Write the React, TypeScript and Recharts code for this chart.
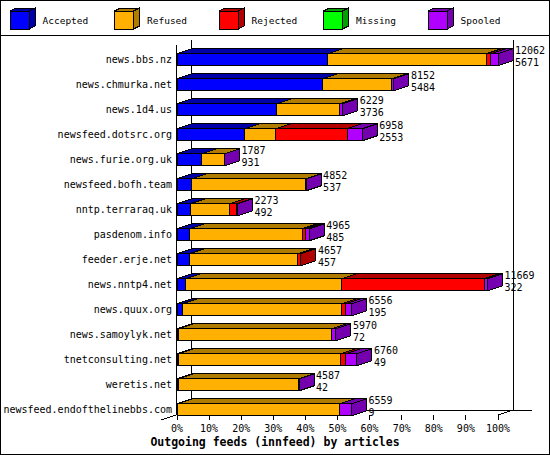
import React from 'react'
import { BarChart, Bar, XAxis, YAxis, LabelList, Customized } from 'recharts'

// feeds, top to bottom
const hosts = [
  'news.bbs.nz',
  'news.chmurka.net',
  'news.1d4.us',
  'newsfeed.dotsrc.org',
  'news.furie.org.uk',
  'newsfeed.bofh.team',
  'nntp.terraraq.uk',
  'pasdenom.info',
  'feeder.erje.net',
  'news.nntp4.net',
  'news.quux.org',
  'news.samoylyk.net',
  'tnetconsulting.net',
  'weretis.net',
  'newsfeed.endofthelinebbs.com',
]

// article counts (totals and accepted are printed, the rest)
const totals = [12062, 8152, 6229, 6958, 1787, 4852, 2273, 4965, 4657, 11669, 6556, 5970, 6760, 4587, 6559]
const accepted = [5671, 5484, 3736, 2553, 931, 537, 492, 485, 457, 322, 195, 72, 49, 42, 9]
const refused = [5947, 2590, 2385, 1146, 844, 4300, 1480, 4220, 4065, 5850, 5980, 5730, 6100, 4530, 6095]
const rejected = [170, 0, 0, 2690, 0, 0, 280, 120, 135, 5370, 170, 20, 190, 0, 0]
const missing = [0, 0, 0, 0, 0, 0, 0, 0, 0, 0, 0, 0, 0, 0, 0]
const spooled = [274, 78, 108, 569, 12, 15, 21, 140, 0, 127, 211, 148, 421, 15, 455]

const percentTicks = [0, 10, 20, 30, 40, 50, 60, 70, 80, 90, 100]

const series = [
  { key: 'accepted', name: 'Accepted', front: '#0000ff', dark: '#0000a8' },
  { key: 'refused', name: 'Refused', front: '#ffb000', dark: '#b07c00' },
  { key: 'rejected', name: 'Rejected', front: '#ff0000', dark: '#b00000' },
  { key: 'missing', name: 'Missing', front: '#00ff00', dark: '#00a000' },
  { key: 'spooled', name: 'Spooled', front: '#b000ff', dark: '#7400b0' },
]

const maxTotal = Math.max(...totals)
const pct = (v: number) => (v / maxTotal) * 100

const data = hosts.map((name, i) => ({
  name,
  accepted: pct(accepted[i]),
  refused: pct(refused[i]),
  rejected: pct(rejected[i]),
  missing: pct(missing[i]),
  spooled: pct(spooled[i]),
  label: `${totals[i]}|${accepted[i]}`,
}))

const FONT = '"DejaVu Sans Mono", monospace'
const DX = 15
const DY = 5
const FLOOR = 415

function Box3D(props: any) {
  const { x, y, width, height, front, dark } = props
  if (!width || width <= 0) return <g />
  const x2 = x + width
  const y2 = y + height
  return (
    <g stroke="#000" strokeWidth={1} shapeRendering="crispEdges">
      <polygon points={`${x},${y} ${x2},${y} ${x2 + DX},${y - DY} ${x + DX},${y - DY}`} fill={dark} />
      <polygon points={`${x2},${y} ${x2 + DX},${y - DY} ${x2 + DX},${y2 - DY} ${x2},${y2}`} fill={dark} />
      <rect x={x} y={y} width={width} height={height} fill={front} />
    </g>
  )
}

const renderCounts = (p: any) => {
  const { x, y, width, value } = p
  const [tot, acc] = String(value).split('|')
  const lx = Number(x) + Number(width) + DX + 2
  return (
    <g>
      <text x={lx} y={Number(y) + 0.5} fontFamily={FONT} fontSize={10} fill="#000">{tot}</text>
      <text x={lx} y={Number(y) + 12} fontFamily={FONT} fontSize={10} fill="#000">{acc}</text>
    </g>
  )
}

const PctTick = (p: any) => {
  const { x, payload } = p
  return (
    <g>
      <line x1={x} y1={FLOOR} x2={x} y2={FLOOR + 5} stroke="#000" shapeRendering="crispEdges" />
      <text x={x} y={FLOOR + 16.5} textAnchor="middle" fontFamily={FONT} fontSize={10} fill="#000">
        {payload.value}%
      </text>
    </g>
  )
}

function Frame() {
  return (
    <g>
      <g stroke="#000" strokeWidth={1} fill="none" shapeRendering="crispEdges">
        <rect x={0.5} y={0.5} width={549} height={454} />
        <line x1={0} y1={35.5} x2={550} y2={35.5} />
        <line x1={176.5} y1={45} x2={176.5} y2={FLOOR} />
        <line x1={191.5} y1={40} x2={191.5} y2={FLOOR - DY} />
        <line x1={513.5} y1={40} x2={513.5} y2={FLOOR - DY} />
        <line x1={191} y1={FLOOR - DY + 0.5} x2={532} y2={FLOOR - DY + 0.5} />
        <line x1={498} y1={FLOOR} x2={498 + DX} y2={FLOOR - DY} />
        <line x1={161} y1={FLOOR + DY} x2={176} y2={FLOOR} />
      </g>
      {series.map((s, i) => {
        const bx = 10 + i * 104.5
        return (
          <g key={s.key}>
            <g stroke="#000" strokeWidth={1} shapeRendering="crispEdges">
              <polygon points={`${bx},11 ${bx + 19},11 ${bx + 25},8 ${bx + 6},8`} fill={s.dark} />
              <polygon points={`${bx + 19},11 ${bx + 25},8 ${bx + 25},26 ${bx + 19},29`} fill={s.dark} />
              <rect x={bx} y={11} width={19} height={18} fill={s.front} />
            </g>
            <text x={bx + 32.5} y={24} fontFamily={FONT} fontSize={9.5} fill="#000">{s.name}</text>
          </g>
        )
      })}
      <text x={275} y={446} textAnchor="middle" fontFamily={FONT} fontSize={11.5} fontWeight="bold" fill="#000">
        Outgoing feeds (innfeed) by articles
      </text>
    </g>
  )
}

export default function App() {
  return (
    <div style={{ position: 'absolute', left: 0, top: 0, width: 550, height: 455, background: '#fff' }}>
      <BarChart
        layout="vertical"
        width={550}
        height={455}
        data={data}
        barSize={12}
        margin={{ top: 46.8, right: 52, bottom: 13.2, left: 0 }}
      >
        <Customized component={Frame} />
        <XAxis
          type="number"
          domain={[0, 100]}
          ticks={percentTicks}
          axisLine={false}
          tickLine={false}
          tickSize={0}
          tickMargin={0}
          height={20}
          tick={<PctTick />}
          interval={0}
        />
        <YAxis
          type="category"
          dataKey="name"
          width={177}
          axisLine={false}
          tickLine={false}
          tickSize={0}
          tickMargin={5}
          interval={0}
          tick={{ fontFamily: FONT, fontSize: 10, fill: '#000' }}
        />
        {series.map((s, i) => (
          <Bar
            key={s.key}
            dataKey={s.key}
            name={s.name}
            stackId="feeds"
            fill={s.front}
            isAnimationActive={false}
            shape={(p: any) => <Box3D {...p} front={s.front} dark={s.dark} />}
          >
            {i === series.length - 1 && <LabelList dataKey="label" content={renderCounts} />}
          </Bar>
        ))}
      </BarChart>
    </div>
  )
}
